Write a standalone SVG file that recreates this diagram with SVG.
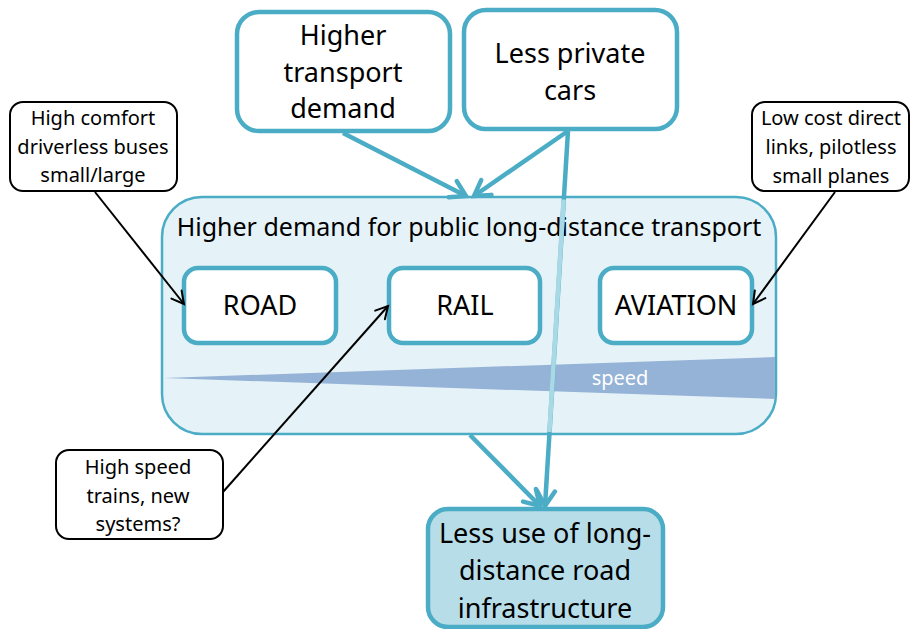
<svg xmlns="http://www.w3.org/2000/svg" width="912" height="629" viewBox="0 0 912 629">
<style>
.tbox{fill:#ffffff;stroke:#4bacc6;stroke-width:4.5}
.call{fill:#ffffff;stroke:#000000;stroke-width:2}
.t{font-family:"Noto Sans","Open Sans",sans-serif;fill:#000;text-anchor:middle}
.big{font-size:27px}
.mid{font-size:27px}
.sm{font-size:20px}
.tc{stroke:#4bacc6;stroke-width:4.5;fill:none}
.bc{stroke:#000;stroke-width:2;fill:none}
</style>
<defs>
<marker id="ta" markerUnits="userSpaceOnUse" markerWidth="24" markerHeight="24" viewBox="0 0 24 24" refX="20" refY="12" orient="auto">
<path d="M5,3 L20,12 L5,21" fill="none" stroke="#4bacc6" stroke-width="4.5" stroke-linecap="round" stroke-linejoin="miter"/>
</marker>
<marker id="ba" markerUnits="userSpaceOnUse" markerWidth="18" markerHeight="18" viewBox="0 0 18 18" refX="15" refY="9" orient="auto">
<path d="M3,2.5 L15,9 L3,15.5" fill="none" stroke="#000" stroke-width="2" stroke-linecap="round"/>
</marker>
</defs>

<g id="container">
<rect x="162" y="197" width="614" height="237" rx="40" fill="#e5f2f7" stroke="#4bacc6" stroke-width="2.5"/>
<text class="t" x="469" y="236" font-size="25">Higher demand for public long-distance transport</text>
<polygon points="164,378 775,357 775,399" fill="#95b3d7"/>
<text x="620" y="385" font-family="'Noto Sans','Open Sans',sans-serif" font-size="20" fill="#ffffff" text-anchor="middle">speed</text>
</g>

<g id="road">
<rect class="tbox" x="184" y="268" width="152" height="75" rx="14"/>
<text class="t mid" x="260" y="315">ROAD</text>
</g>
<g id="rail">
<rect class="tbox" x="389" y="268" width="151" height="75" rx="14"/>
<text class="t mid" x="465" y="315">RAIL</text>
</g>
<g id="aviation">
<rect class="tbox" x="600" y="268" width="152" height="75" rx="14"/>
<text class="t mid" x="676" y="315">AVIATION</text>
</g>

<g id="higher-transport-demand">
<rect class="tbox" x="237" y="12" width="213" height="119" rx="22"/>
<text class="t big" x="343" y="45">Higher</text>
<text class="t big" x="343" y="82">transport</text>
<text class="t big" x="343" y="118">demand</text>
</g>
<g id="less-private-cars">
<rect class="tbox" x="464" y="10" width="213" height="119" rx="22"/>
<text class="t big" x="570" y="63">Less private</text>
<text class="t big" x="570" y="100">cars</text>
</g>

<g id="less-road-infra">
<rect x="428" y="509" width="235" height="118" rx="20" fill="#b7dde8" stroke="#4bacc6" stroke-width="4.5"/>
<text class="t mid" x="545" y="543">Less use of long-</text>
<text class="t mid" x="545" y="580">distance road</text>
<text class="t mid" x="545" y="618">infrastructure</text>
</g>

<g id="callout-road">
<rect class="call" x="10" y="102" width="167" height="89" rx="13"/>
<text class="t sm" x="93" y="125">High comfort</text>
<text class="t sm" x="93" y="154">driverless buses</text>
<text class="t sm" x="93" y="182">small/large</text>
</g>
<g id="callout-aviation">
<rect class="call" x="752" y="102" width="157" height="89" rx="13"/>
<text class="t sm" x="831" y="125">Low cost direct</text>
<text class="t sm" x="831" y="154">links, pilotless</text>
<text class="t sm" x="831" y="183">small planes</text>
</g>
<g id="callout-rail">
<rect class="call" x="56" y="450" width="167" height="89" rx="13"/>
<text class="t sm" x="138" y="474">High speed</text>
<text class="t sm" x="138" y="503">trains, new</text>
<text class="t sm" x="138" y="531">systems?</text>
</g>

<g id="connectors">
<path class="tc" d="M343,133 L466,196" marker-end="url(#ta)"/>
<path class="tc" d="M568,131 L474,196" marker-end="url(#ta)"/>
<path class="tc" d="M568,131 L545,506" marker-end="url(#ta)"/>
<path d="M563.6,199.5 L549.4,432" stroke="#a9d9e4" stroke-width="4.5" fill="none"/>
<path class="tc" d="M470,435 L540,506" marker-end="url(#ta)"/>
<path class="bc" d="M95,192 L184,304" marker-end="url(#ba)"/>
<path class="bc" d="M835,192 L753,304" marker-end="url(#ba)"/>
<path class="bc" d="M223,492 L388,306" marker-end="url(#ba)"/>
</g>
</svg>
